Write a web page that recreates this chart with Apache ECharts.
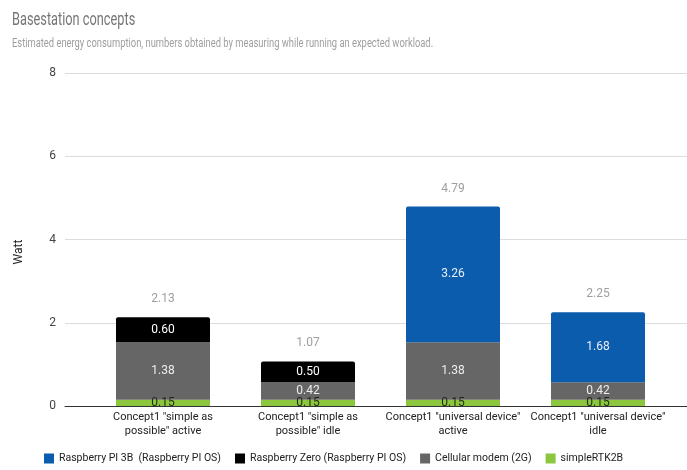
<!DOCTYPE html>
<html><head><meta charset="utf-8">
<script src="https://cdn.jsdelivr.net/npm/echarts@6/dist/echarts.min.js"></script>
<style>html,body{margin:0;padding:0;background:#fff}#c{width:687px;height:470px}</style>
</head><body><div id="c"></div>
<script>
const titleText = 'Basestation concepts';
const subtitleText = 'Estimated energy consumption, numbers obtained by measuring while running an expected workload.';
const categories = [
  'Concept1 "simple as\npossible" active',
  'Concept1 "simple as\npossible" idle',
  'Concept1 "universal device"\nactive',
  'Concept1 "universal device"\nidle'
];
const simpleRTK2B = [0.15, 0.15, 0.15, 0.15];
const cellularModem = [1.38, 0.42, 1.38, 0.42];
const raspberryZero = [0.60, 0.50, null, null];
const raspberryPi3B = [null, null, 3.26, 1.68];
const yTicks = { min: 0, max: 8, interval: 2 };

const totals = categories.map((_, i) =>
  [simpleRTK2B, cellularModem, raspberryZero, raspberryPi3B].reduce((s, a) => s + (a[i] || 0), 0));

const font = 'Roboto, Arial, sans-serif';
const chart = echarts.init(document.getElementById('c'), null, { renderer: 'canvas' });
const inLabel = (color) => ({
  show: true, position: 'inside', color: color, fontSize: 12, fontFamily: font,
  formatter: p => p.value == null ? '' : Number(p.value).toFixed(2)
});
const barW = 94;
chart.setOption({
  animation: false,
  textStyle: { fontFamily: font },
  legend: {
    bottom: 1, left: 39, itemWidth: 10, itemHeight: 10, itemGap: 14,
    icon: 'rect',
    textStyle: { fontSize: 10.5, color: '#222', fontFamily: font },
    data: ['Raspberry PI 3B  (Raspberry PI OS)', 'Raspberry Zero (Raspberry PI OS)', 'Cellular modem (2G)', 'simpleRTK2B']
  },
  graphic: [
    { type: 'text', x: 12, y: 20, scaleX: 0.71,
      style: { text: titleText, fill: '#757575', fontSize: 18, fontFamily: font, verticalAlign: 'middle' } },
    { type: 'text', x: 12, y: 44, scaleX: 0.78,
      style: { text: subtitleText, fill: '#9e9e9e', fontSize: 12, fontFamily: font, verticalAlign: 'middle' } },
    { type: 'text', x: 19, y: 252, rotation: Math.PI / 2,
      style: { text: 'Watt', fill: '#222', fontSize: 12, fontFamily: font, align: 'center', verticalAlign: 'middle' } }
  ],
  grid: [
    { left: 65, right: 0, top: 73, bottom: 64 },
    { left: 90.5, right: 16.5, top: 73, bottom: 64 }
  ],
  xAxis: [
    { gridIndex: 0, type: 'value', min: 0, max: 1, axisLabel: { show: false }, axisTick: { show: false },
      splitLine: { show: false }, axisLine: { show: true, lineStyle: { color: '#333', width: 1 } } },
    { gridIndex: 1, type: 'category', data: categories,
      axisLine: { show: false }, axisTick: { show: false },
      axisLabel: { color: '#222', fontSize: 11, fontFamily: font, lineHeight: 14, margin: 4, interval: 0 } }
  ],
  yAxis: [
    { gridIndex: 0, type: 'value', min: yTicks.min, max: yTicks.max, interval: yTicks.interval,
      axisLine: { show: false }, axisTick: { show: false },
      axisLabel: { color: '#444', fontSize: 12, margin: 9, fontFamily: font },
      splitLine: { lineStyle: { color: '#dcdcdc' } } },
    { gridIndex: 1, type: 'value', min: yTicks.min, max: yTicks.max, interval: yTicks.interval,
      show: false, splitLine: { show: false } }
  ],
  series: [
    { name: 'simpleRTK2B', type: 'bar', stack: 's', xAxisIndex: 1, yAxisIndex: 1, barWidth: barW,
      data: simpleRTK2B, itemStyle: { color: '#8cc63f' }, label: inLabel('#1e2a10') },
    { name: 'Cellular modem (2G)', type: 'bar', stack: 's', xAxisIndex: 1, yAxisIndex: 1, barWidth: barW,
      data: cellularModem, itemStyle: { color: '#666666' }, label: inLabel('#eeeeee') },
    { name: 'Raspberry Zero (Raspberry PI OS)', type: 'bar', stack: 's', xAxisIndex: 1, yAxisIndex: 1, barWidth: barW,
      data: raspberryZero, itemStyle: { color: '#000000', borderRadius: [2, 2, 0, 0] }, label: inLabel('#ffffff') },
    { name: 'Raspberry PI 3B  (Raspberry PI OS)', type: 'bar', stack: 's', xAxisIndex: 1, yAxisIndex: 1, barWidth: barW,
      data: raspberryPi3B, itemStyle: { color: '#0b5cad', borderRadius: [2, 2, 0, 0] }, label: inLabel('#e8eef8') },
    { name: 'total', type: 'bar', stack: 's', xAxisIndex: 1, yAxisIndex: 1, barWidth: barW,
      data: totals.map(() => 0), itemStyle: { color: 'transparent' }, silent: true,
      label: { show: true, position: 'top', distance: 12, color: '#9e9e9e', fontSize: 12, fontFamily: font,
        formatter: p => totals[p.dataIndex].toFixed(2) } }
  ]
});
</script></body></html>
